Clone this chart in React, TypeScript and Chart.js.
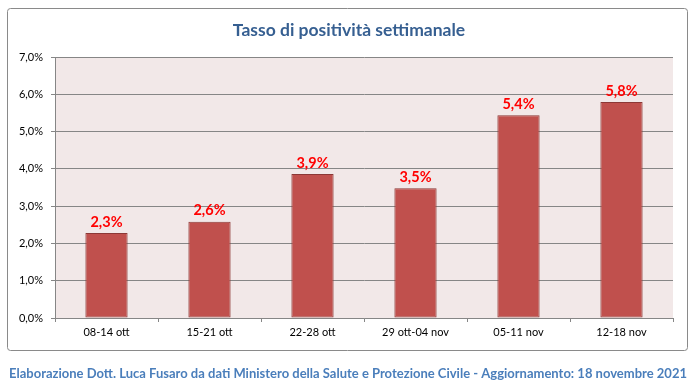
import { useEffect, useRef } from "react";
import { Chart, registerables } from "chart.js";
Chart.register(...registerables);

const categories = ["08-14 ott", "15-21 ott", "22-28 ott", "29 ott-04 nov", "05-11 nov", "12-18 nov"];
const values = [2.28, 2.58, 3.86, 3.48, 5.44, 5.79];
const yMin = 0;
const yMax = 7;
const yStep = 1;
const titleText = "Tasso di positività settimanale";
const footerText =
  "Elaborazione Dott. Luca Fusaro da dati Ministero della Salute e Protezione Civile - Aggiornamento: 18 novembre 2021";

const fmt = (v: number) => v.toFixed(1).replace(".", ",") + "%";
const FONT = "Lato, 'Open Sans', sans-serif";

const decorPlugin = {
  id: "decor",
  beforeDraw(chart: any) {
    const { ctx, chartArea } = chart;
    ctx.save();
    ctx.fillStyle = "#ffffff";
    ctx.fillRect(0, 0, chart.width, chart.height);
    // outer box
    ctx.strokeStyle = "#8a8a8a";
    ctx.lineWidth = 1;
    ctx.beginPath();
    if (ctx.roundRect) ctx.roundRect(7.5, 8.5, 680, 342, 3);
    else ctx.rect(7.5, 8.5, 680, 342);
    ctx.stroke();
    // plot background
    ctx.fillStyle = "#f2e8e8";
    ctx.fillRect(chartArea.left, chartArea.top, chartArea.right - chartArea.left, chartArea.bottom - chartArea.top);
    ctx.restore();
  },
  afterDatasetsDraw(chart: any) {
    const { ctx } = chart;
    const meta = chart.getDatasetMeta(0);
    ctx.save();
    ctx.fillStyle = "#ff0000";
    ctx.font = `bold 14.5px ${FONT}`;
    ctx.textAlign = "center";
    ctx.textBaseline = "middle";
    meta.data.forEach((el: any, i: number) => {
      ctx.fillText(fmt(values[i]), el.x, el.y - 11);
    });
    ctx.restore();
  },
  afterDraw(chart: any) {
    const { ctx } = chart;
    ctx.save();
    ctx.textAlign = "center";
    ctx.textBaseline = "middle";
    ctx.fillStyle = "#365f91";
    ctx.font = `bold 17.5px ${FONT}`;
    ctx.fillText(titleText, 349, 30);
    ctx.fillStyle = "#4a7ebb";
    ctx.font = `bold 13px ${FONT}`;
    ctx.fillText(footerText, 348, 374);
    ctx.restore();
  },
};

export default function App() {
  const ref = useRef<HTMLCanvasElement>(null);
  useEffect(() => {
    if (!ref.current) return;
    const chart = new Chart(ref.current, {
      type: "bar",
      data: {
        labels: categories,
        datasets: [
          {
            data: values,
            backgroundColor: "#c0504d",
            borderColor: "#8c3836",
            borderWidth: 1,
            borderSkipped: false,
            categoryPercentage: 1,
            barPercentage: 0.41,
          },
        ],
      },
      options: {
        responsive: false,
        animation: false,
        layout: { padding: { top: 57, right: 25, bottom: 39, left: 0 } },
        plugins: { legend: { display: false }, tooltip: { enabled: false }, title: { display: false } },
        scales: {
          x: {
            offset: true,
            grid: { offset: true, drawOnChartArea: false, drawTicks: true, tickLength: 4, color: "#868686" },
            border: { display: true, color: "#868686" },
            ticks: { color: "#000000", font: { family: FONT, size: 11 }, padding: 4, maxRotation: 0 },
            afterFit: (s: any) => {
              s.height = 33;
            },
          },
          y: {
            min: yMin,
            max: yMax,
            grid: { color: "#868686", tickLength: 4, drawTicks: true },
            border: { display: true, color: "#868686" },
            ticks: {
              stepSize: yStep,
              color: "#000000",
              font: { family: FONT, size: 11 },
              padding: 8,
              callback: (v: any) => fmt(Number(v)),
            },
            afterFit: (s: any) => {
              s.width = 55;
            },
          },
        },
      },
      plugins: [decorPlugin],
    });
    return () => chart.destroy();
  }, []);
  return (
    <div style={{ position: "fixed", left: 0, top: 0, width: 698, height: 390 }}>
      <canvas ref={ref} width={698} height={390} />
    </div>
  );
}
